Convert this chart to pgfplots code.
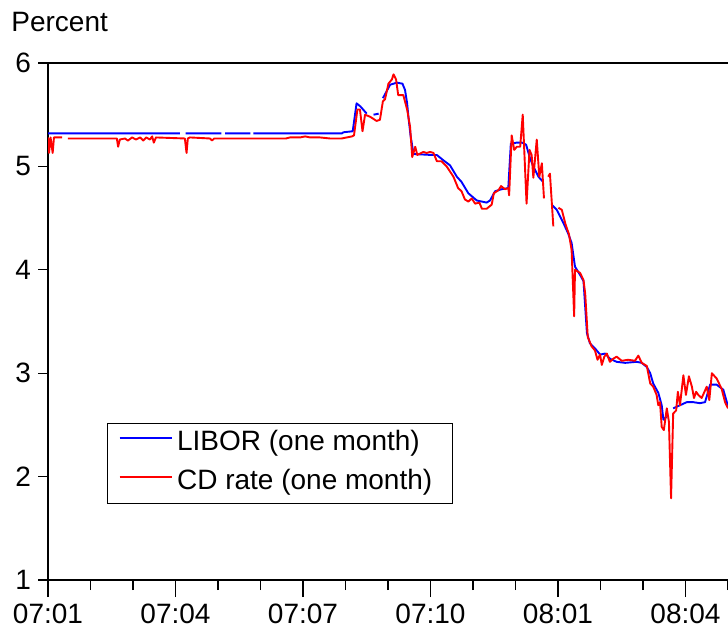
\documentclass[border=0pt]{standalone}
\usepackage{fontspec}
\setmainfont{Liberation Sans}
\usepackage{pgfplots}
\pgfplotsset{compat=1.18}
\begin{document}
\begin{tikzpicture}
\begin{axis}[
  name=ax, at={(0,0)}, anchor=south west,
  scale only axis, width=350.625pt, height=258.5pt,
  xmin=0, xmax=16.5, ymin=1, ymax=6,
  xtick={0,1,...,16}, xticklabels={},
  extra x ticks={0,3,6,9,12,15},
  extra x tick labels={07:01,07:04,07:07,07:10,08:01,08:04},
  extra x tick style={major tick length=8.5pt, tick style={black, line width=0.6pt}},
  ytick={1,2,3,4,5,6},
  tick align=outside, xtick pos=bottom, ytick pos=left,
  major tick length=5pt,
  tick style={black, line width=0.6pt},
  axis line style={line width=0.8pt},
  ticklabel style={font=\fontsize{14}{16}\selectfont},
  /pgf/number format/assume math mode=true,
  unbounded coords=jump,
  legend style={at={(0.0841,0.3037)}, anchor=north west, draw=black, line width=0.6pt,
    inner xsep=5.5pt, inner ysep=0.5pt, font=\fontsize{14}{16}\selectfont,
    cells={anchor=west},
    nodes={inner sep=0pt, text height=12.75pt, text depth=6.75pt},
    /tikz/every odd column/.append style={column sep=2.3pt}},
  legend image code/.code={\draw[#1] (0pt,3pt) -- (26pt,3pt);},
]
\addplot[blue, line width=0.95pt, line join=round] coordinates {
(0,5.32) (3.10,5.32) (3.11,nan) (3.24,5.32) (4.08,5.32) (4.09,nan) (4.17,5.32) (4.76,5.32) (4.77,nan) (4.83,5.32) (6.0,5.32) (6.5,5.32) (6.92,5.32) (6.95,5.33) (7.17,5.34) (7.26,5.61) (7.35,5.58) (7.50,5.51) (7.55,nan) (7.66,5.50) (7.78,5.51) (7.82,nan) (7.88,5.66) (8.05,5.79) (8.21,5.81) (8.34,5.80) (8.40,5.74) (8.45,5.61) (8.48,5.48) (8.53,5.30) (8.60,5.12) (9.04,5.11) (9.15,5.11) (9.30,5.06) (9.46,5.01) (9.62,4.90) (9.73,4.85) (9.89,4.74) (10.09,4.67) (10.32,4.65) (10.40,4.67) (10.52,4.76) (10.68,4.78) (10.83,4.79) (10.89,5.22) (11.03,5.23) (11.15,5.23) (11.25,5.21) (11.34,5.08) (11.42,5.00) (11.54,4.90) (11.65,4.85) (11.70,nan) (11.85,4.63) (11.97,4.58) (12.13,4.45) (12.24,4.35) (12.32,4.26) (12.40,4.03) (12.52,3.95) (12.60,3.89) (12.68,3.39) (12.75,3.29) (12.87,3.24) (12.99,3.18) (13.11,3.19) (13.22,3.14) (13.38,3.11) (13.58,3.10) (13.85,3.11) (13.97,3.10) (14.09,3.06) (14.17,3.00) (14.24,2.90) (14.36,2.81) (14.44,2.69) (14.48,2.55) (14.56,2.58) (14.60,nan) (14.71,2.66) (14.87,2.69) (15.03,2.72) (15.18,2.72) (15.34,2.71) (15.46,2.72) (15.58,2.89) (15.73,2.89) (15.89,2.84) (16.0,2.68)
};
\addlegendentry{LIBOR (one month)\rule{4.5pt}{0pt}}
\addplot[red, line width=0.95pt, line join=round] coordinates {
(0,5.28) (0.024,5.13) (0.06,5.28) (0.11,5.13) (0.14,5.28) (0.33,5.28) (0.40,nan) (0.47,5.27) (1.62,5.27) (1.65,5.19) (1.69,5.26) (1.81,5.27) (1.88,5.25) (1.98,5.28) (2.07,5.26) (2.17,5.28) (2.24,5.25) (2.31,5.28) (2.40,5.26) (2.45,5.29) (2.49,5.23) (2.54,5.28) (3.22,5.27) (3.26,5.13) (3.29,5.27) (3.34,5.28) (3.81,5.27) (3.86,5.25) (3.91,5.27) (5.60,5.27) (5.69,5.28) (5.93,5.28) (6.05,5.29) (6.17,5.28) (6.40,5.28) (6.64,5.27) (6.91,5.27) (7.15,5.29) (7.20,5.30) (7.28,5.55) (7.34,5.55) (7.40,5.34) (7.46,5.50) (7.58,5.48) (7.73,5.44) (7.81,5.45) (7.88,5.63) (7.93,5.65) (8.01,5.80) (8.09,5.84) (8.13,5.89) (8.19,5.84) (8.24,5.69) (8.36,5.69) (8.45,5.55) (8.52,5.38) (8.57,5.09) (8.64,5.19) (8.69,5.11) (8.83,5.14) (8.91,5.13) (8.99,5.14) (9.07,5.13) (9.15,5.05) (9.26,5.05) (9.38,5.00) (9.54,4.90) (9.65,4.79) (9.73,4.76) (9.81,4.68) (9.89,4.66) (9.97,4.69) (10.05,4.64) (10.15,4.65) (10.21,4.59) (10.32,4.59) (10.44,4.63) (10.49,4.74) (10.60,4.77) (10.66,4.81) (10.75,4.78) (10.83,4.79) (10.85,4.72) (10.91,5.30) (10.97,5.16) (11.03,5.19) (11.11,5.19) (11.17,5.50) (11.26,4.64) (11.33,5.16) (11.38,5.11) (11.42,4.89) (11.50,5.26) (11.56,4.90) (11.62,5.03) (11.67,4.69) (11.72,nan) (11.77,4.90) (11.81,4.93) (11.89,4.42) (11.95,nan) (12.01,4.60) (12.09,4.58) (12.17,4.45) (12.26,4.34) (12.32,4.19) (12.38,3.55) (12.40,4.00) (12.52,3.97) (12.60,3.90) (12.64,3.77) (12.70,3.35) (12.79,3.26) (12.87,3.22) (12.93,3.13) (12.99,3.18) (13.03,3.08) (13.09,3.16) (13.15,3.19) (13.22,3.11) (13.30,3.14) (13.38,3.16) (13.50,3.12) (13.65,3.13) (13.81,3.12) (13.89,3.17) (13.97,3.10) (14.09,3.07) (14.17,2.90) (14.24,2.87) (14.32,2.79) (14.36,2.69) (14.40,2.72) (14.44,2.48) (14.49,2.45) (14.56,2.66) (14.61,2.53) (14.66,1.79) (14.71,2.61) (14.78,2.64) (14.82,2.82) (14.87,2.69) (14.95,2.98) (15.01,2.79) (15.08,2.97) (15.15,2.87) (15.20,2.76) (15.25,2.82) (15.30,2.79) (15.38,2.76) (15.50,2.87) (15.56,2.74) (15.62,3.00) (15.73,2.95) (15.85,2.85) (15.93,2.72) (16.0,2.66)
};
\addlegendentry{CD rate (one month)\rule{4.5pt}{0pt}}
\end{axis}
\node[anchor=base west, inner sep=0pt, font=\fontsize{14}{16}\selectfont] at (-18.5pt,274.15pt) {Percent};
\pgfresetboundingbox
\useasboundingbox (-24pt,-23.5pt) rectangle (340pt,290pt);
\end{tikzpicture}
\end{document}
